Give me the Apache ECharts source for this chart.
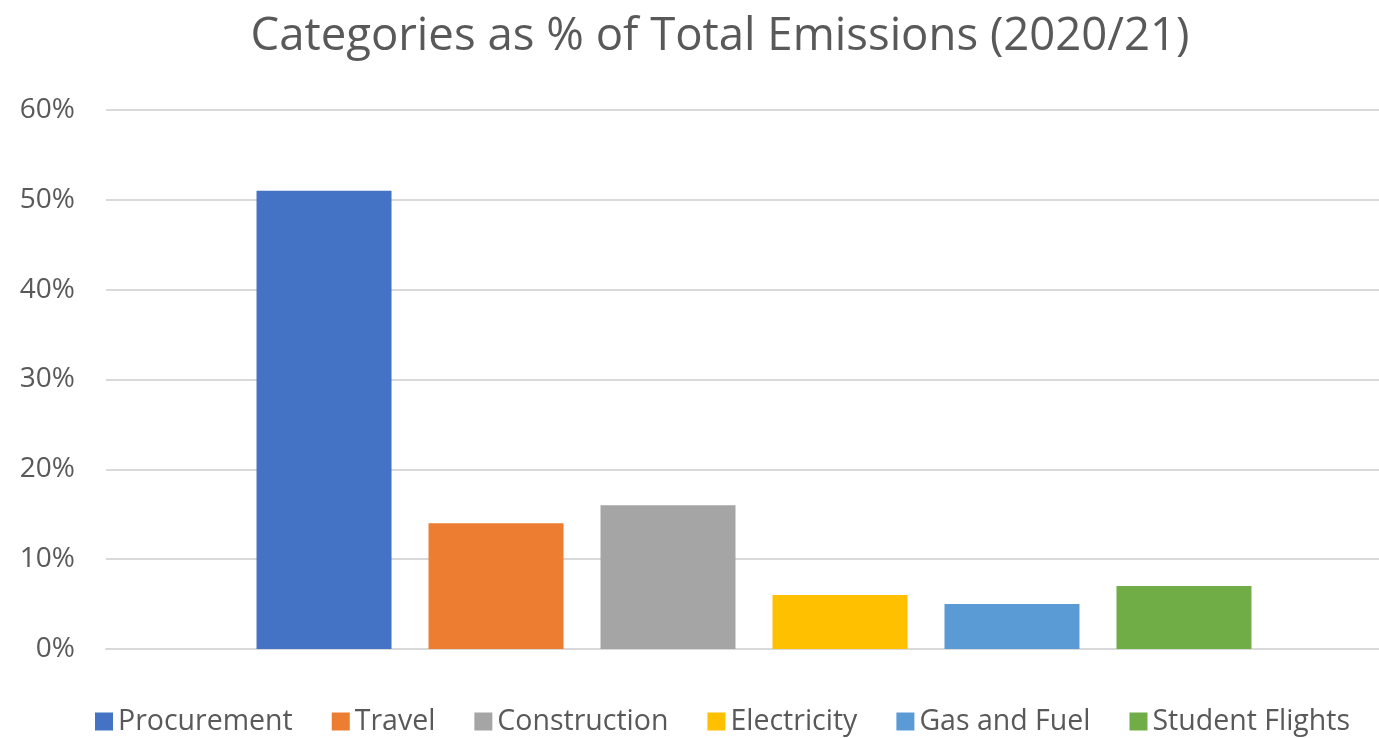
<!DOCTYPE html>
<html>
<head>
<meta charset="utf-8">
<script src="https://cdn.jsdelivr.net/npm/echarts@6/dist/echarts.min.js"></script>
<style>html,body{margin:0;padding:0;background:#fff}#c{width:1379px;height:738px}</style>
</head>
<body>
<div id="c"></div>
<script>
const categories = ['2020/21'];
const seriesNames = ['Procurement', 'Travel', 'Construction', 'Electricity', 'Gas and Fuel', 'Student Flights'];
const seriesValues = [0.51, 0.14, 0.16, 0.06, 0.05, 0.07];
const seriesColors = ['#4472C4', '#ED7D31', '#A5A5A5', '#FFC000', '#5B9BD5', '#70AD47'];
const yTicks = { min: 0, max: 0.6, interval: 0.1 };

const chart = echarts.init(document.getElementById('c'));
const font = 'Open Sans';
chart.setOption({
  animation: false,
  title: {
    text: 'Categories as % of Total Emissions (2020/21)',
    left: 715, top: 9, textAlign: 'center',
    textStyle: { fontFamily: font, fontSize: 45.5, fontWeight: 'normal', color: '#595959' }
  },
  legend: {
    bottom: 2, left: 95, padding: 0,
    itemWidth: 18, itemHeight: 18, itemGap: 39,
    icon: 'rect',
    textStyle: { fontFamily: font, fontSize: 28.5, color: '#595959' },
    data: seriesNames
  },
  grid: [
    { left: 106, right: 0, top: 110, bottom: 89 },
    { left: 129, right: 0, top: 110, bottom: 89 }
  ],
  xAxis: [
    {
      type: 'category', data: categories, gridIndex: 0,
      axisLine: { lineStyle: { color: '#d9d9d9', width: 2 } },
      axisTick: { show: false }, axisLabel: { show: false }
    },
    {
      type: 'category', data: categories, gridIndex: 1,
      axisLine: { show: false }, axisTick: { show: false }, axisLabel: { show: false }
    }
  ],
  yAxis: [
    {
      type: 'value', gridIndex: 0, min: yTicks.min, max: yTicks.max, interval: yTicks.interval,
      axisLine: { show: false }, axisTick: { show: false },
      splitLine: { lineStyle: { color: '#d9d9d9', width: 2 } },
      axisLabel: {
        margin: 31, fontFamily: font, fontSize: 28, color: '#595959',
        formatter: v => Math.round(v * 100) + '%'
      }
    },
    {
      type: 'value', gridIndex: 1, min: yTicks.min, max: yTicks.max, interval: yTicks.interval,
      axisLine: { show: false }, axisTick: { show: false },
      splitLine: { show: false }, axisLabel: { show: false }
    }
  ],
  series: seriesNames.map((n, i) => ({
    name: n, type: 'bar', data: [seriesValues[i]],
    xAxisIndex: 1, yAxisIndex: 1,
    barWidth: 135, barGap: '27.4%',
    itemStyle: { color: seriesColors[i] }
  }))
});
</script>
</body>
</html>
